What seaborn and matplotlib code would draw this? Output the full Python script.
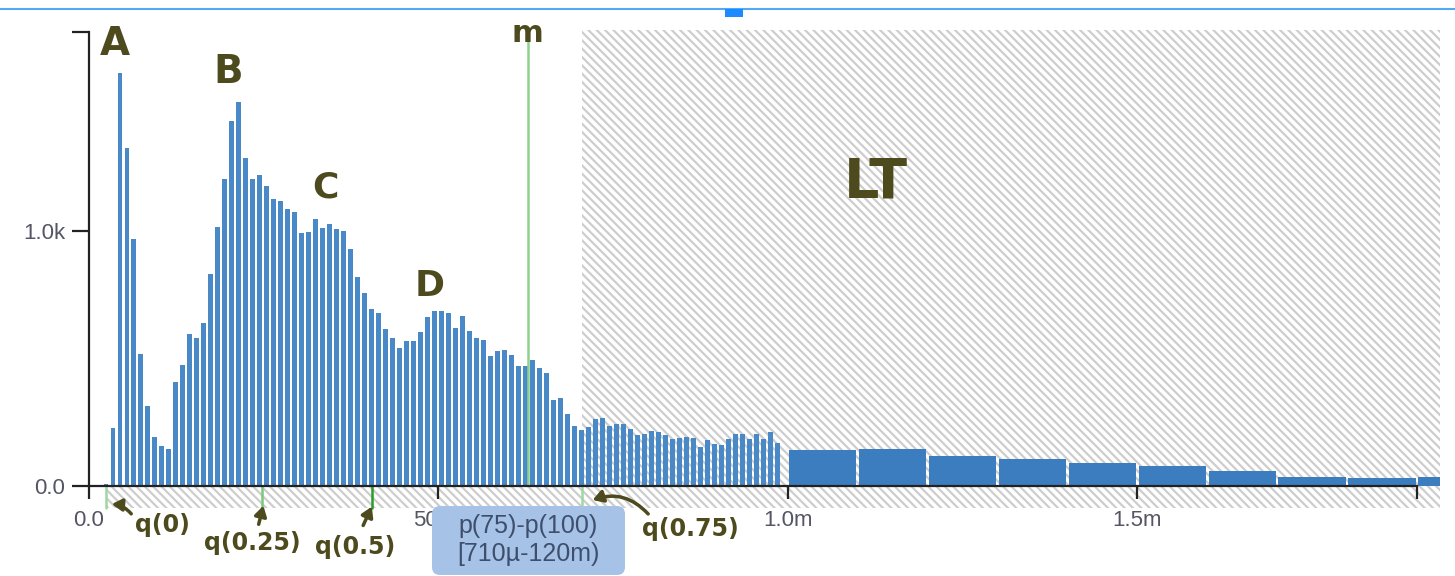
import numpy as np
import pandas as pd
import matplotlib
matplotlib.use("Agg")
import matplotlib.pyplot as plt
from matplotlib.patches import Rectangle, FancyBboxPatch
from matplotlib.lines import Line2D
import seaborn as sns

# ---------------- data ----------------
# fine histogram: 10 µs bins from 0 to 1000 µs (counts per bin)
fine_bin_width_us = 10
fine_counts = [
    0, 0, 9, 229, 1620, 1324, 967, 516, 314, 192,
    157, 146, 408, 474, 595, 579, 640, 830, 1017, 1202,
    1431, 1507, 1285, 1202, 1219, 1176, 1127, 1117, 1087, 1076,
    993, 997, 1048, 1013, 1029, 1006, 1000, 931, 819, 758,
    693, 680, 614, 582, 540, 569, 569, 604, 664, 686,
    686, 677, 621, 667, 608, 579, 571, 510, 529, 532,
    514, 471, 471, 494, 461, 444, 336, 346, 281, 234,
    221, 231, 264, 267, 234, 242, 242, 222, 199, 203,
    214, 212, 199, 186, 190, 192, 190, 153, 179, 166,
    159, 183, 203, 203, 183, 205, 183, 212, 169, 0,
]
# coarse long-tail histogram: 100 µs bins from 1000 µs
wide_start_us = 1000
wide_bin_width_us = 100
wide_counts = [141, 144, 118, 105, 89, 80, 60, 37, 30, 34]

q_labels = ["q(0)", "q(0.25)", "q(0.5)", "q(0.75)"]
q_values_us = [25, 248, 405, 706]
mean_label = "m"
mean_us = 628
peak_labels = ["A", "B", "C", "D"]
tail_label = "LT"
x_tick_values = [0, 500, 1000, 1500]
x_tick_labels = ["0.0", "500µ", "1.0m", "1.5m"]
x_domain_end = 1900
y_tick_values = [0, 1000]
y_tick_labels = ["0.0", "1.0k"]
y_domain_end = 1780
tooltip_lines = ["p(75)-p(100)", "[710µ-120m)"]

# ---------------- derived tables ----------------
fine_edges = [i * fine_bin_width_us for i in range(len(fine_counts) + 1)]
fine_df = pd.DataFrame({"t": [e + fine_bin_width_us / 2 for e in fine_edges[:-1]],
                        "n": fine_counts})
wide_edges = [wide_start_us + i * wide_bin_width_us for i in range(len(wide_counts) + 1)]
wide_df = pd.DataFrame({"t": [e + wide_bin_width_us / 2 for e in wide_edges[:-1]],
                        "n": wide_counts})

# ---------------- style ----------------
sns.set_theme(style="white")
plt.rcParams["font.family"] = ["Liberation Sans", "DejaVu Sans"]
plt.rcParams["hatch.linewidth"] = 1.6

W, H = 1455, 576
fig = plt.figure(figsize=(W / 100, H / 100), dpi=100)
fig.patch.set_facecolor("white")
ax_left, ax_right, ax_top, ax_bottom = 88.5, 1440, 30, 486
ax = fig.add_axes([ax_left / W, (H - ax_bottom) / H,
                   (ax_right - ax_left) / W, (ax_bottom - ax_top) / H])
ax.set_facecolor("white")

XMAX = 1933
YMAX = 1788
ax.set_xlim(0, XMAX)
ax.set_ylim(0, YMAX)

hatch_col = "#cdcdcd"
# long-tail hatched region
ax.add_patch(Rectangle((q_values_us[3], 0), XMAX - q_values_us[3], YMAX,
                       facecolor="white", edgecolor=hatch_col, hatch="\\\\\\\\",
                       lw=0, zorder=0))
# quantile strip under the axis
xt = ax.get_xaxis_transform()
strip_h = 22 / (ax_bottom - ax_top)
ax.add_patch(Rectangle((q_values_us[0], -strip_h), XMAX - q_values_us[0], strip_h,
                       facecolor="white", edgecolor=hatch_col, hatch="\\\\\\\\",
                       lw=0, zorder=0, transform=xt, clip_on=False))

# bars
sns.histplot(data=fine_df, x="t", weights="n", bins=fine_edges, shrink=0.70,
             color="#4a89c8", alpha=1, edgecolor="none", linewidth=0, ax=ax, zorder=2)
sns.histplot(data=wide_df, x="t", weights="n", bins=wide_edges, shrink=0.96,
             color="#3b7dbf", alpha=1, edgecolor="none", linewidth=0, ax=ax, zorder=2)
ax.set_xlim(0, XMAX)
ax.set_ylim(0, YMAX)
ax.set_xlabel("")
ax.set_ylabel("")

# mean line
ax.plot([mean_us, mean_us], [0, 1750], color="#8fd08f", lw=1.8, zorder=3)
# quantile marks below axis
q_cols = ["#9fd89f", "#7cc77c", "#2e9a2e", "#9fd89f"]
for qv, qc in zip(q_values_us, q_cols):
    ax.plot([qv, qv], [0, -strip_h], transform=xt, color=qc, lw=1.8,
            clip_on=False, zorder=3)

# axes / spines
for s in ["top", "right"]:
    ax.spines[s].set_visible(False)
for s in ["left", "bottom"]:
    ax.spines[s].set_color("#222222")
    ax.spines[s].set_linewidth(1.6)
    ax.spines[s].set_zorder(4)
ax.spines["bottom"].set_bounds(0, x_domain_end)
ax.spines["left"].set_bounds(0, y_domain_end)
ax.set_xticks(x_tick_values)
ax.set_xticklabels(x_tick_labels)
ax.set_yticks(y_tick_values)
ax.set_yticklabels(y_tick_labels)
ax.set_xticks([x_domain_end], minor=True)
ax.set_yticks([y_domain_end], minor=True)
ax.tick_params(axis="both", which="both", direction="out", color="#222222",
               width=1.6, labelsize=16, labelcolor="#555566")
ax.tick_params(axis="x", which="both", bottom=True, length=9, pad=8)
ax.tick_params(axis="y", which="both", left=True, length=12, pad=5)
ax.grid(False)

# ---------------- overlays ----------------
hand = "#4d4a1e"
hand_font = dict(color=hand, fontweight="bold", family=["DejaVu Sans"])

def fp(x, y):
    return (x, H - y)

# peak labels
for lab, (px, py), fs in zip(peak_labels, [(115, 44), (228, 72), (325, 188), (430, 286)],
                             [28, 28, 26, 26]):
    ax.annotate(lab, xy=fp(px, py), xycoords="figure pixels", ha="center", va="center",
                fontsize=fs, **hand_font)
ax.annotate(mean_label, xy=fp(527, 33), xycoords="figure pixels", ha="center",
            va="center", fontsize=22, **hand_font)
ax.annotate(tail_label, xy=fp(876, 183), xycoords="figure pixels", ha="center",
            va="center", fontsize=40, **hand_font)

# quantile labels with arrows
q_text_pos = [(162, 525), (252, 543), (355, 547), (690, 529)]
q_arrow_from = [(133, 516), (258, 527), (362, 528), (650, 516)]
q_arrow_to = [(109, 504), (264, 503), (373, 504), (590, 501)]
q_rad = [0.25, 0.0, 0.0, 0.35]
for lab, tp, af, at, rad in zip(q_labels, q_text_pos, q_arrow_from, q_arrow_to, q_rad):
    ax.annotate(lab, xy=fp(*tp), xycoords="figure pixels", ha="center", va="center",
                fontsize=17, annotation_clip=False, **hand_font)
    ax.annotate("", xy=fp(*at), xycoords="figure pixels", xytext=fp(*af),
                textcoords="figure pixels", annotation_clip=False,
                arrowprops=dict(arrowstyle="-|>,head_length=0.5,head_width=0.3",
                                color=hand, lw=2.5,
                                connectionstyle=f"arc3,rad={rad}"))

# tooltip
tip = FancyBboxPatch((4.32, (H - 575) / 100), 1.93, 0.69,
                     boxstyle="round,pad=0,rounding_size=0.08",
                     transform=fig.dpi_scale_trans, facecolor="#a6c2e6",
                     edgecolor="none", zorder=10)
fig.patches.append(tip)
for i, line in enumerate(tooltip_lines):
    fig.text(528.5 / W, (H - (526 + 28 * i)) / H, line, ha="center", va="center",
             fontsize=18, color="#3e4f6e", zorder=11)

# top selection bar
fig.add_artist(Line2D([0, 1], [(H - 9) / H] * 2, transform=fig.transFigure,
                      color="#55a8f2", lw=1.5))
fig.patches.append(Rectangle((725 / W, (H - 17) / H), 18 / W, 8 / H,
                             transform=fig.transFigure, facecolor="#1a8cff",
                             edgecolor="none", zorder=5))

fig.savefig("out.png", dpi=100)
